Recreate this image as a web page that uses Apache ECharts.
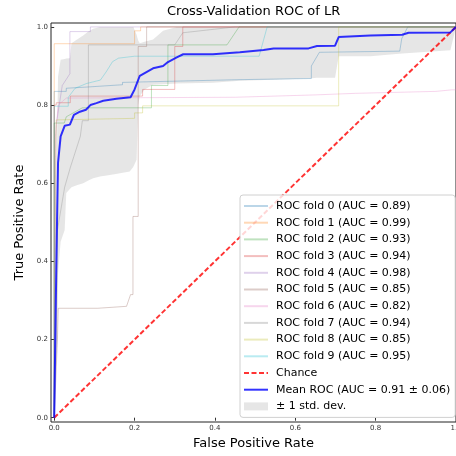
<!DOCTYPE html>
<html><head><meta charset="utf-8">
<script src="https://cdn.jsdelivr.net/npm/echarts@6/dist/echarts.min.js"></script>
<style>html,body{margin:0;padding:0;background:#fff}#c{width:456px;height:456px}</style>
</head><body><div id="c"></div>
<script>
// ---- data ----
const titleText = 'Cross-Validation ROC of LR';
const xName = 'False Positive Rate';
const yName = 'True Positive Rate';
const xTicks = [0, 0.2, 0.4, 0.6, 0.8, 1.0];
const yTicks = [0, 0.2, 0.4, 0.6, 0.8, 1.0];

const foldAuc = [0.89, 0.99, 0.93, 0.94, 0.98, 0.85, 0.82, 0.94, 0.85, 0.95];
const foldColors = ['rgba(31,119,180,0.3)', 'rgba(255,127,14,0.3)', 'rgba(44,160,44,0.3)', 'rgba(214,39,40,0.3)',
  'rgba(148,103,189,0.3)', 'rgba(140,86,75,0.3)', 'rgba(227,119,194,0.3)', 'rgba(127,127,127,0.3)',
  'rgba(188,189,34,0.3)', 'rgba(23,190,207,0.3)'];

const fold0Fpr = [0, 0, 0.03, 0.03, 0.08, 0.17, 0.17, 0.46, 0.64, 0.64, 0.66, 0.86, 0.865, 0.88, 1.0];
const fold0Tpr = [0, 0.835, 0.835, 0.843, 0.846, 0.852, 0.858, 0.865, 0.868, 0.90, 0.935, 0.938, 0.97, 1.0, 1.0];
const fold1Fpr = [0, 0, 0.2, 0.2, 0.215, 0.215, 1.0];
const fold1Tpr = [0, 0.957, 0.957, 0.99, 0.99, 1.0, 1.0];
const fold2Fpr = [0, 0, 0.025, 0.03, 0.07, 0.242, 0.242, 0.283, 0.283, 0.43, 0.46, 1.0];
const fold2Tpr = [0, 0.754, 0.754, 0.77, 0.793, 0.793, 0.85, 0.85, 0.954, 0.954, 1.0, 1.0];
const fold3Fpr = [0, 0, 0.005, 0.005, 0.04, 0.04, 0.22, 0.22, 0.30, 0.30, 0.32, 0.32, 1.0];
const fold3Tpr = [0, 0.80, 0.80, 0.806, 0.806, 0.823, 0.823, 0.84, 0.84, 0.95, 0.95, 1.0, 1.0];
const fold4Fpr = [0, 0.003, 0.005, 0.02, 0.039, 0.039, 0.09, 0.09, 1.0];
const fold4Tpr = [0, 0.5, 0.75, 0.85, 0.88, 0.988, 0.988, 1.0, 1.0];
const fold5Fpr = [0, 0.004, 0.008, 0.01, 0.108, 0.11, 0.18, 0.19, 0.196, 0.196, 0.209, 0.209, 0.23, 0.23, 1.0];
const fold5Tpr = [0, 0.1, 0.2, 0.28, 0.28, 0.285, 0.285, 0.315, 0.315, 0.515, 0.515, 0.95, 0.95, 1.0, 1.0];
const fold6Fpr = [0, 0.003, 0.01, 0.03, 0.45, 0.65, 0.75, 0.95, 0.99, 1.0, 1.0];
const fold6Tpr = [0, 0.72, 0.80, 0.818, 0.82, 0.826, 0.83, 0.835, 0.839, 0.839, 1.0];
const fold7Fpr = [0, 0.005, 0.008, 0.026, 0.04, 0.065, 0.07, 0.085, 0.085, 0.30, 0.32, 0.45, 1.0];
const fold7Tpr = [0, 0.2, 0.48, 0.59, 0.64, 0.72, 0.76, 0.76, 0.954, 0.954, 0.985, 1.0, 1.0];
const fold8Fpr = [0, 0.003, 0.005, 0.2, 0.2, 0.22, 0.22, 0.708, 0.708, 1.0];
const fold8Tpr = [0, 0.6, 0.762, 0.766, 0.78, 0.78, 0.798, 0.798, 1.0, 1.0];
const fold9Fpr = [0, 0, 0.035, 0.035, 0.052, 0.08, 0.115, 0.13, 0.145, 0.16, 0.2, 0.51, 0.53, 1.0];
const fold9Tpr = [0, 0.797, 0.797, 0.82, 0.843, 0.855, 0.864, 0.886, 0.911, 0.92, 0.925, 0.925, 1.0, 1.0];

const chanceFpr = [0, 1];
const chanceTpr = [0, 1];

const meanFpr = [0, 0.004, 0.007, 0.0095, 0.016, 0.026, 0.039, 0.049, 0.064, 0.079, 0.09, 0.105, 0.122, 0.155, 0.19, 0.2, 0.213, 0.246, 0.271, 0.283, 0.305, 0.321, 0.395, 0.462, 0.521, 0.546, 0.633, 0.654, 0.699, 0.708, 0.787, 0.866, 0.882, 0.986, 1.0];
const meanTpr = [0, 0.3, 0.5, 0.652, 0.72, 0.747, 0.75, 0.775, 0.783, 0.788, 0.80, 0.805, 0.811, 0.816, 0.82, 0.84, 0.875, 0.894, 0.9, 0.91, 0.922, 0.93, 0.93, 0.935, 0.941, 0.945, 0.945, 0.951, 0.952, 0.974, 0.978, 0.98, 0.985, 0.986, 1.0];
const meanLabel = 'Mean ROC (AUC = 0.91 ± 0.06)';

const bandFpr = [0, 0.004, 0.008, 0.0095, 0.016, 0.026, 0.03, 0.039, 0.043, 0.056, 0.072, 0.085, 0.097, 0.114, 0.15, 0.188, 0.197, 0.205, 0.209, 0.213, 0.225, 0.246, 0.271, 0.305, 0.395, 0.462, 0.546, 0.633, 0.654, 0.699, 0.708, 0.787, 0.866, 0.986, 1.0];
const bandUpper = [0, 0.45, 0.78, 0.873, 0.916, 0.918, 0.919, 0.92, 0.958, 0.967, 0.978, 0.988, 0.995, 1.0, 1.0, 1.0, 1.0, 0.98, 0.965, 0.958, 0.962, 0.968, 0.99, 1.0, 1.0, 1.0, 1.0, 1.0, 1.0, 1.0, 1.0, 1.0, 1.0, 1.0, 1.0];
const bandLower = [0, 0.12, 0.2, 0.37, 0.45, 0.48, 0.575, 0.585, 0.59, 0.595, 0.6, 0.607, 0.613, 0.617, 0.623, 0.63, 0.642, 0.66, 0.8, 0.823, 0.84, 0.852, 0.853, 0.855, 0.857, 0.862, 0.865, 0.868, 0.87, 0.87, 0.925, 0.925, 0.932, 0.94, 1.0];
const bandLabel = '± 1 std. dev.';

// ---- build ----
const foldFpr = [fold0Fpr, fold1Fpr, fold2Fpr, fold3Fpr, fold4Fpr, fold5Fpr, fold6Fpr, fold7Fpr, fold8Fpr, fold9Fpr];
const foldTpr = [fold0Tpr, fold1Tpr, fold2Tpr, fold3Tpr, fold4Tpr, fold5Tpr, fold6Tpr, fold7Tpr, fold8Tpr, fold9Tpr];
const zip = (a, b) => a.map((v, i) => [v, b[i]]);
const FONT = 'DejaVu Sans';

const series = [];
const legendData = [];
foldFpr.forEach((f, k) => {
  const name = 'ROC fold ' + k + ' (AUC = ' + foldAuc[k].toFixed(2) + ')';
  legendData.push(name);
  series.push({
    name, type: 'line', data: zip(f, foldTpr[k]), symbol: 'none', silent: true,
    lineStyle: { color: foldColors[k], width: 1 }, itemStyle: { color: foldColors[k], opacity: 0 }
  });
});
legendData.push('Chance');
series.push({
  name: 'Chance', type: 'line', data: zip(chanceFpr, chanceTpr), symbol: 'none',
  lineStyle: { color: 'rgba(255,0,0,0.8)', width: 2, type: [5, 2.5] }, itemStyle: { color: 'rgba(255,0,0,0.8)', opacity: 0 }
});
legendData.push(meanLabel);
series.push({
  name: meanLabel, type: 'line', data: zip(meanFpr, meanTpr), symbol: 'none',
  lineStyle: { color: 'rgba(0,0,255,0.8)', width: 2 }, itemStyle: { color: 'rgba(0,0,255,0.8)', opacity: 0 }
});
legendData.push({ name: bandLabel, icon: 'rect', itemStyle: { color: 'rgba(128,128,128,0.2)', opacity: 1 } });
series.push({
  name: bandLabel, type: 'custom',
  data: bandFpr.map((x, i) => [x, bandUpper[i], bandLower[i]]),
  encode: { x: 0, y: [1, 2] },
  itemStyle: { color: 'rgba(128,128,128,0.2)' },
  renderItem: function (params, api) {
    if (params.dataIndex !== 0) return null;
    const pts = [];
    for (let i = 0; i < bandFpr.length; i++) pts.push(api.coord([bandFpr[i], bandUpper[i]]));
    for (let i = bandFpr.length - 1; i >= 0; i--) pts.push(api.coord([bandFpr[i], bandLower[i]]));
    return { type: 'polygon', shape: { points: pts }, style: { fill: 'rgba(128,128,128,0.2)' } };
  }
});

const fmt = v => (Math.abs(v - 1) < 1e-9 ? '1.0' : v.toFixed(1));

const chart = echarts.init(document.getElementById('c'), null, { renderer: 'canvas' });
chart.setOption({
  animation: false,
  backgroundColor: '#fff',
  title: {
    text: titleText, left: 167, top: 5, padding: 0,
    textStyle: { fontFamily: FONT, fontSize: 13, fontWeight: 'normal', color: '#000' }
  },
  grid: { left: 51, top: 23, right: 0, bottom: 34, outerBoundsMode: 'none', show: true, borderColor: '#222', borderWidth: 1, backgroundColor: 'transparent', containLabel: false },
  xAxis: {
    type: 'value', min: -0.008, max: 1.0,
    name: xName, nameLocation: 'middle', nameGap: 14,
    nameTextStyle: { fontFamily: FONT, fontSize: 13, color: '#000' },
    axisLine: { show: false },
    axisTick: { show: true, customValues: xTicks, length: 3, lineStyle: { color: '#333' } },
    axisLabel: { customValues: xTicks, formatter: fmt, fontFamily: FONT, fontSize: 7, color: '#333', margin: 3 },
    splitLine: { show: false }
  },
  yAxis: {
    type: 'value', min: -0.011, max: 1.01,
    name: yName, nameLocation: 'middle', nameGap: 23,
    nameTextStyle: { fontFamily: FONT, fontSize: 13, color: '#000' },
    axisLine: { show: false },
    axisTick: { show: true, customValues: yTicks, length: 3, lineStyle: { color: '#333' } },
    axisLabel: { customValues: yTicks, formatter: fmt, fontFamily: FONT, fontSize: 7, color: '#333', margin: 3 },
    splitLine: { show: false }
  },
  legend: {
    orient: 'vertical', left: 240, top: 195,
    data: legendData,
    itemWidth: 24, itemHeight: 8, itemGap: 2.7,
    padding: [4, 5, 4, 3],
    backgroundColor: 'rgba(255,255,255,0.8)', borderColor: '#d0d0d0', borderWidth: 1, borderRadius: 3,
    selectedMode: false,
    textStyle: { fontFamily: FONT, fontSize: 11, color: '#000', lineHeight: 14, padding: [0, 0, 0, 3] }
  },
  series
});
</script></body></html>
